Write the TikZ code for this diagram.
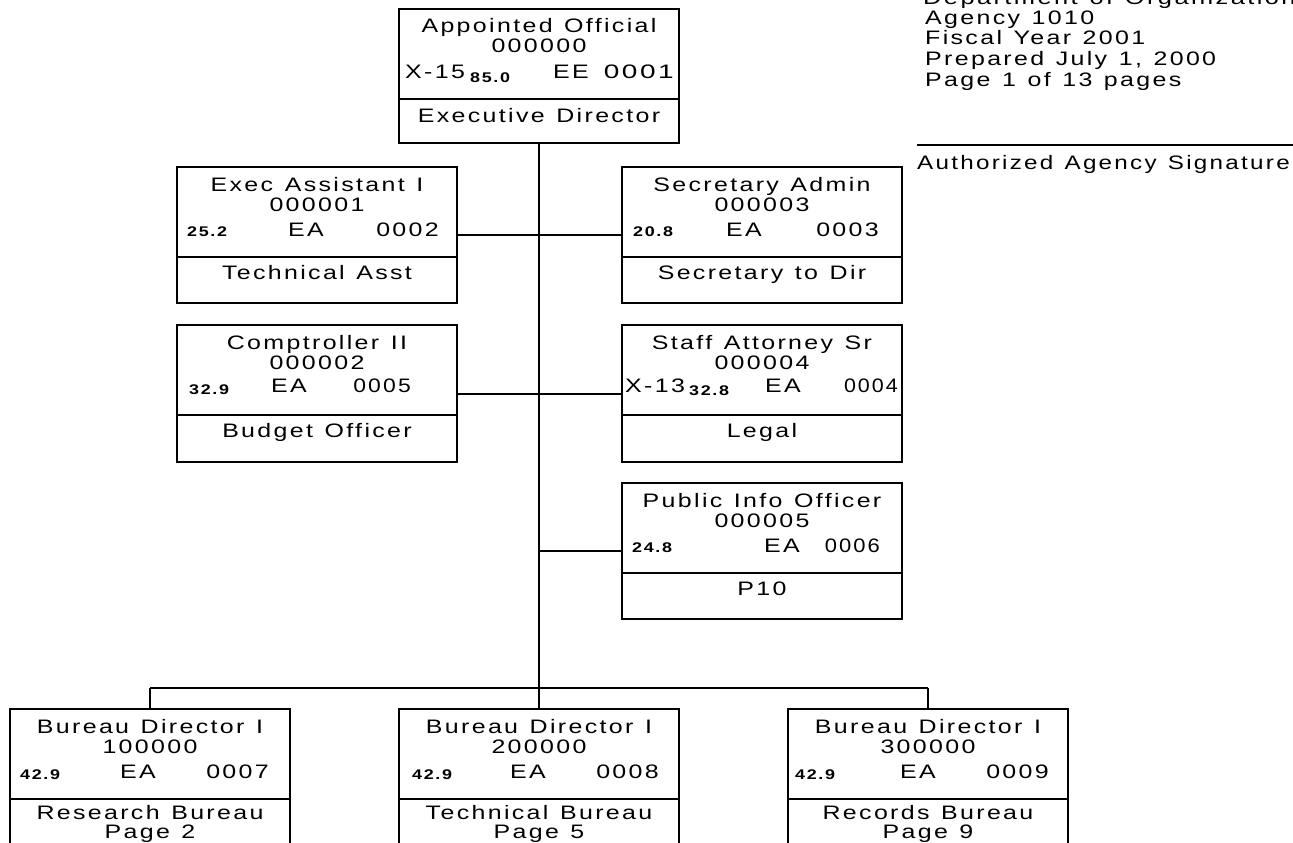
\documentclass[tikz,border=0pt]{standalone}
\usepackage{fontspec}
\setmainfont{Liberation Sans}[LetterSpace=12,FakeStretch=1.28,WordSpace=1.25]
\usetikzlibrary{calc}
\begin{document}
\begin{tikzpicture}[x=1pt,y=-1pt,
  box/.style={draw, line width=2.4pt, minimum width=280pt, inner sep=0pt, outer sep=0pt, anchor=north west},
  divl/.style={line width=2.2pt},
  conn/.style={line width=2pt},
  t/.style={inner sep=0pt, font=\fontsize{19.5}{20}\selectfont, anchor=base},
  tw/.style={t, anchor=base west},
  te/.style={t, anchor=base east},
  sm/.style={inner sep=0pt, font=\fontsize{14}{14}\selectfont\bfseries, anchor=base west}]
\fill[white] (0,0) rectangle (1293,843);
\useasboundingbox (0,0) rectangle (1293,843);
\clip (0,0) rectangle (1293,843);

\newcommand\orgbox[6]{% name, left, top, height, title, number
  \node[box, minimum height=#4] (#1) at (#2,#3) {};
  \draw[divl] ($(#1.north west)+(0,90)$) -- ($(#1.north east)+(0,90)$);
  \node[t] (#1-a) at ($(#1.north)+(0,24)$) {#5};
  \node[t] (#1-b) at ($(#1.north)+(0,44)$) {#6};
}

% boxes
\orgbox{top}{399}{9}{134pt}{Appointed Official}{000000}
\orgbox{exec}{177}{167}{136pt}{Exec Assistant I}{000001}
\orgbox{secr}{622}{167}{136pt}{Secretary Admin}{000003}
\orgbox{comp}{177}{325}{137pt}{Comptroller II}{000002}
\orgbox{staff}{622}{325}{137pt}{Staff Attorney Sr}{000004}
\orgbox{pub}{622}{483}{136pt}{Public Info Officer}{000005}
\orgbox{bA}{10}{709}{200pt}{Bureau Director I}{100000}
\orgbox{bB}{399}{709}{200pt}{Bureau Director I}{200000}
\orgbox{bC}{788}{709}{200pt}{Bureau Director I}{300000}

% third lines
\node[tw] (top-x) at (405,78) {X-15};
\node[sm] (top-s) at (470,82) {85.0};
\node[tw] (top-c) at (553,78) {EE};
\node[te] (top-n) at (674,78) {\scalebox{1.12}[1]{0001}};

\node[sm] (exec-s) at (187,236) {25.2};
\node[tw] (exec-c) at (288,236) {EA};
\node[te] (exec-n) at (439,236) {0002};

\node[sm] (secr-s) at (633,236) {20.8};
\node[tw] (secr-c) at (726,236) {EA};
\node[te] (secr-n) at (879,236) {0003};

\node[sm] (comp-s) at (189,394) {32.9};
\node[tw] (comp-c) at (271,392) {EA};
\node[te] (comp-n) at (411,392) {\scalebox{0.92}[1]{0005}};

\node[tw] (staff-x) at (625,392) {X-13};
\node[sm] (staff-s) at (689,395) {32.8};
\node[tw] (staff-c) at (765,392) {EA};
\node[te] (staff-n) at (898,392) {\scalebox{0.86}[1]{0004}};

\node[sm] (pub-s) at (632,552) {24.8};
\node[tw] (pub-c) at (764,552) {EA};
\node[te] (pub-n) at (880,552) {\scalebox{0.88}[1]{0006}};

\node[sm] (bA-s) at (20,779) {42.9};
\node[tw] (bA-c) at (120,778) {EA};
\node[te] (bA-n) at (269,778) {0007};
\node[sm] (bB-s) at (412,779) {42.9};
\node[tw] (bB-c) at (510,778) {EA};
\node[te] (bB-n) at (659,778) {0008};
\node[sm] (bC-s) at (795,779) {42.9};
\node[tw] (bC-c) at (900,778) {EA};
\node[te] (bC-n) at (1049,778) {0009};

% lower texts
\node[t] (top-l) at ($(top.north)+(0,113)$) {Executive Director};
\node[t] (exec-l) at ($(exec.north)+(0,112)$) {Technical Asst};
\node[t] (secr-l) at ($(secr.north)+(0,112)$) {Secretary to Dir};
\node[t] (comp-l) at ($(comp.north)+(0,112)$) {Budget Officer};
\node[t] (staff-l) at ($(staff.north)+(0,112)$) {Legal};
\node[t] (pub-l) at ($(pub.north)+(0,112)$) {P10};
\node[t] (bA-l) at ($(bA.north)+(0,110)$) {Research Bureau};
\node[t] (bA-p) at ($(bA.north)+(0,129)$) {Page 2};
\node[t] (bB-l) at ($(bB.north)+(0,110)$) {Technical Bureau};
\node[t] (bB-p) at ($(bB.north)+(0,129)$) {Page 5};
\node[t] (bC-l) at ($(bC.north)+(0,110)$) {Records Bureau};
\node[t] (bC-p) at ($(bC.north)+(0,129)$) {Page 9};

% connectors
\coordinate (bus) at ($(top.south)+(0,545)$);
\draw[conn] (top.south) -- (bus);
\draw[conn] (bus -| bA.north) -- (bus -| bC.north);
\draw[conn] (bus -| bA.north) -- (bA.north);
\draw[conn] (bus) -- (bB.north);
\draw[conn] (bus -| bC.north) -- (bC.north);
\draw[conn] (exec.east) -- (secr.west);
\draw[conn] (comp.east) -- (staff.west);
\draw[conn] (top.south |- pub.west) -- (pub.west);

% header
\node[tw] (h0) at (923,5) {\scalebox{1.02}[1]{Department of Organization}};
\node[tw] (h1) at (925,25) {Agency 1010};
\node[tw] (h2) at (925,45) {Fiscal Year 2001};
\node[tw] (h3) at (925,66) {Prepared July 1, 2000};
\node[tw] (h4) at (925,86) {Page 1 of 13 pages};
\coordinate (sigL) at (917,145);
\coordinate (sigR) at (1293,145);
\draw[conn] (sigL) -- (sigR);
\node[tw] (sig) at (917,169) {\scalebox{0.97}[1]{Authorized Agency Signature}};
\end{tikzpicture}
\end{document}
